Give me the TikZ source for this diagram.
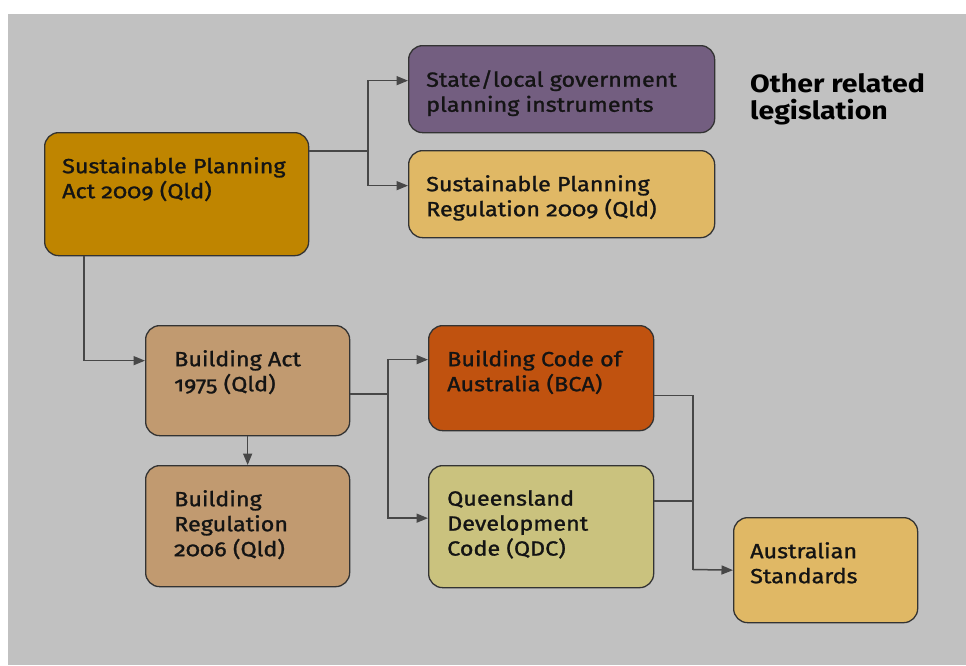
\documentclass[tikz,border=0pt]{standalone}
\usepackage{fontspec}
\setmainfont{Fira Sans}[Numbers=OldStyle, FakeStretch=1.14]
\newfontfamily\blurbfont{Fira Sans}[Numbers=OldStyle, FakeStretch=1.14, FakeBold=1.2]
\usetikzlibrary{calc,arrows.meta,positioning}

\definecolor{bgGrey}{HTML}{C1C1C1}
\definecolor{cSpa}{HTML}{BF8500}
\definecolor{cSl}{HTML}{735E80}
\definecolor{cSpr}{HTML}{E0B865}
\definecolor{cBa}{HTML}{C19A70}
\definecolor{cBca}{HTML}{C0520F}
\definecolor{cQdc}{HTML}{CAC27E}
\definecolor{cLine}{HTML}{474747}

\tikzset{
	panel/.style={draw=black!80, line width=1.3pt, rounded corners=14pt, anchor=north west, inner sep=0pt},
	blurb/.style={anchor=north west, inner sep=0pt, align=left, text=black!92, font=\blurbfont\fontsize{20.5}{25}\selectfont},
	link/.style={draw=cLine, line width=1.5pt},
	feed/.style={link, -{Triangle[length=11.5pt,width=9pt]}},
}

\begin{document}
\begin{tikzpicture}[x=1pt,y=-1pt]
			%%%%% START %%%%%
			\useasboundingbox (0,0) rectangle (966,665);
			\fill[bgGrey] (8,14) rectangle (966,665);
			
			% top row
			\node[panel, fill=cSpa, minimum width=264pt, minimum height=123pt] (spa) at (44,132) {};
			\node[blurb] (spaText) at ($(spa.north west)+(18,25)$) {Sustainable Planning\\Act 2009 (Qld)};
			
			\node[panel, fill=cSl, minimum width=306pt, minimum height=87pt] (sl) at (408,45) {};
			\node[blurb] (slText) at ($(sl.north west)+(18,25)$) {State/local government\\planning instruments};
			
			\node[panel, fill=cSpr, minimum width=306pt, minimum height=87pt] (spr) at (408,150) {};
			\node[blurb] (sprText) at ($(spr.north west)+(18,25)$) {Sustainable Planning\\Regulation 2009 (Qld)};
			
			\node[anchor=north west, inner sep=0pt, align=left, font=\bfseries\fontsize{25}{27}\selectfont] (other) at (750,73) {Other related\\legislation};
			
			% building
			\node[panel, fill=cBa, minimum width=204pt, minimum height=110pt] (ba) at (145,325) {};
			\node[blurb] (baText) at ($(ba.north west)+(29,25)$) {Building Act\\1975 (Qld)};
			
			\node[panel, fill=cBa, minimum width=204pt, minimum height=121pt] (br) at (145,465) {};
			\node[blurb] (brText) at ($(br.north west)+(29,25)$) {Building\\Regulation\\2006 (Qld)};
			
			\node[panel, fill=cBca, minimum width=225pt, minimum height=105pt] (bca) at (428,325) {};
			\node[blurb] (bcaText) at ($(bca.north west)+(19,25)$) {Building Code of\\Australia (BCA)};
			
			\node[panel, fill=cQdc, minimum width=225pt, minimum height=122pt] (qdc) at (428,465) {};
			\node[blurb] (qdcText) at ($(qdc.north west)+(19,25)$) {Queensland\\Development\\Code (QDC)};
			
			\node[panel, fill=cSpr, minimum width=184pt, minimum height=105pt] (as) at (733,517) {};
			\node[blurb] (asText) at ($(as.north west)+(17,25)$) {Australian\\Standards};
			
			% connectors
			\coordinate (forkA) at (368,151);
			\draw[link] (forkA -| spa.east) -- (forkA);
			\draw[feed] (forkA) |- ($(sl.west)+(0,-8.5)$);
			\draw[feed] (forkA) |- ($(spr.west)+(0,-8.5)$);
			
			\draw[feed] ($(spa.south west)+(40,0)$) |- ($(ba.west)+(0,-20)$);
			\draw[feed] (ba.south) -- (br.north);
			
			\coordinate (forkB) at (388,394);
			\draw[link] (forkB -| ba.east) -- (forkB);
			\draw[feed] (forkB) |- ($(bca.west)+(0,-18.5)$);
			\draw[feed] (forkB) |- ($(qdc.west)+(0,-8.5)$);
			
			\coordinate (forkC) at (693,569.5);
			\draw[link] ($(bca.east)+(0,17.5)$) -| (forkC);
			\draw[link] ($(qdc.east)+(0,-25.5)$) -- ($(qdc.east)+(40,-25.5)$);
			\draw[feed] (forkC) -- (as.west);
			%%%%% END %%%%%
\end{tikzpicture}
\end{document}
